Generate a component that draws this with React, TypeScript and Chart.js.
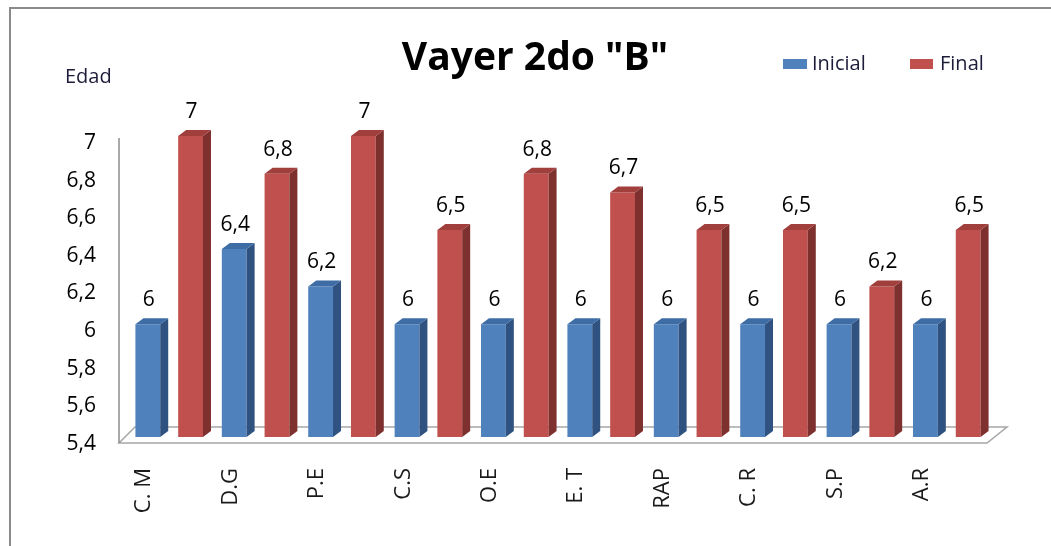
import React, { useEffect, useRef } from "react";
import { Chart, registerables } from "chart.js";
Chart.register(...registerables);

const categories = ["C. M", "D.G", "P.E", "C.S", "O.E", "E. T", "RAP", "C. R", "S.P", "A.R"];
const inicial = [6, 6.4, 6.2, 6, 6, 6, 6, 6, 6, 6];
const final = [7, 6.8, 7, 6.5, 6.8, 6.7, 6.5, 6.5, 6.2, 6.5];
const yMin = 5.4;
const yMax = 7;
const yStep = 0.2;
const titleText = 'Vayer 2do "B"';
const yAxisTitle = "Edad";
const seriesNames = ["Inicial", "Final"];

const FONT = "'Open Sans', sans-serif";
const BLUE = { front: "#4F81BD", side: "#2F5280", top: "#3E6DA6" };
const RED = { front: "#C0504D", side: "#7E302E", top: "#A03F3C" };
const DX = 8;
const DY = 6;

const fmt = (v: number) => String(Number(v.toFixed(1))).replace(".", ",");

const threeD = {
  id: "threeD",
  beforeDraw(chart: any) {
    const ctx = chart.ctx;
    const a = chart.chartArea;
    ctx.save();
    ctx.fillStyle = "#ffffff";
    ctx.fillRect(0, 0, chart.width, chart.height);
    // frame
    ctx.strokeStyle = "#8a8a8a";
    ctx.lineWidth = 2;
    ctx.beginPath();
    ctx.moveTo(10, chart.height + 2);
    ctx.lineTo(10, 8);
    ctx.lineTo(chart.width + 2, 8);
    ctx.stroke();
    // floor
    const fb = a.bottom + 6;
    const bb = a.bottom - 10;
    ctx.strokeStyle = "#a6a6a6";
    ctx.lineWidth = 1.5;
    ctx.beginPath();
    ctx.moveTo(a.left - 7, fb);
    ctx.lineTo(a.left + 9, bb);
    ctx.lineTo(a.right + 17, bb);
    ctx.lineTo(a.right - 3, fb);
    ctx.closePath();
    ctx.stroke();
    // axis line
    ctx.strokeStyle = "#8c8c8c";
    ctx.lineWidth = 1.5;
    ctx.beginPath();
    ctx.moveTo(a.left - 7, a.top + 2);
    ctx.lineTo(a.left - 7, fb);
    ctx.stroke();
    ctx.restore();
  },
  afterDatasetsDraw(chart: any) {
    const ctx = chart.ctx;
    const base = chart.scales.y.getPixelForValue(yMin);
    ctx.save();
    chart.data.datasets.forEach((ds: any, di: number) => {
      const meta = chart.getDatasetMeta(di);
      const col = di === 0 ? BLUE : RED;
      meta.data.forEach((bar: any, i: number) => {
        const x = bar.x;
        const y = bar.y;
        const width = bar.width;
        const l = x - width / 2;
        const r = x + width / 2;
        // side
        ctx.fillStyle = col.side;
        ctx.beginPath();
        ctx.moveTo(r, y);
        ctx.lineTo(r + DX, y - DY);
        ctx.lineTo(r + DX, base - DY);
        ctx.lineTo(r, base);
        ctx.closePath();
        ctx.fill();
        // top
        ctx.fillStyle = col.top;
        ctx.beginPath();
        ctx.moveTo(l, y);
        ctx.lineTo(l + DX, y - DY);
        ctx.lineTo(r + DX, y - DY);
        ctx.lineTo(r, y);
        ctx.closePath();
        ctx.fill();
        // label
        ctx.fillStyle = "#000000";
        ctx.font = `21px ${FONT}`;
        ctx.textAlign = "center";
        ctx.textBaseline = "middle";
        ctx.fillText(fmt(ds.data[i]), x + 1, y - 24);
      });
    });
    ctx.restore();
  },
  afterDraw(chart: any) {
    const ctx = chart.ctx;
    ctx.save();
    ctx.fillStyle = "#000000";
    ctx.textBaseline = "alphabetic";
    ctx.textAlign = "center";
    ctx.font = `bold 39px ${FONT}`;
    ctx.fillText(titleText, 535, 70);
    ctx.textAlign = "left";
    ctx.font = `20px ${FONT}`;
    ctx.fillStyle = "#1c1c3a";
    ctx.fillText(yAxisTitle, 65, 83);
    // legend
    ctx.fillStyle = BLUE.front;
    ctx.fillRect(783, 59, 24, 10);
    ctx.fillStyle = RED.front;
    ctx.fillRect(910, 59, 23, 10);
    ctx.fillStyle = "#1c1c3a";
    ctx.font = `20px ${FONT}`;
    ctx.fillText(seriesNames[0], 812, 70);
    ctx.fillText(seriesNames[1], 940, 70);
    ctx.restore();
  },
};

export default function App() {
  const ref = useRef<HTMLCanvasElement>(null);
  useEffect(() => {
    if (!ref.current) return;
    const chart = new Chart(ref.current, {
      type: "bar",
      data: {
        labels: categories,
        datasets: [
          { label: seriesNames[0], data: inicial, backgroundColor: BLUE.front, borderWidth: 0 },
          { label: seriesNames[1], data: final, backgroundColor: RED.front, borderWidth: 0 },
        ],
      },
      options: {
        animation: false,
        responsive: false,
        devicePixelRatio: 1,
        datasets: { bar: { categoryPercentage: 0.99, barPercentage: 0.58 } },
        layout: { padding: { top: 136, right: 61, bottom: 0, left: 0 } },
        plugins: { legend: { display: false }, title: { display: false }, tooltip: { enabled: false } },
        scales: {
          x: {
            grid: { display: false, drawTicks: false },
            border: { display: false },
            ticks: {
              maxRotation: 90,
              minRotation: 90,
              padding: 31,
              labelOffset: -25,
              color: "#1a1a1a",
              font: { family: FONT, size: 22 },
              autoSkip: false,
            },
            afterFit: (s: any) => {
              s.height = 109;
            },
          },
          y: {
            min: yMin,
            max: yMax,
            grid: { display: false, drawTicks: false },
            border: { display: false },
            ticks: {
              stepSize: yStep,
              padding: 30,
              labelOffset: 7,
              color: "#000000",
              font: { family: FONT, size: 21 },
              callback: (v: any) => fmt(Number(v)),
            },
            afterFit: (s: any) => {
              s.width = 126;
            },
          },
        },
      },
      plugins: [threeD],
    });
    return () => chart.destroy();
  }, []);
  return (
    <div style={{ position: "fixed", left: 0, top: 0, width: 1051, height: 546, overflow: "hidden" }}>
      <canvas ref={ref} width={1051} height={546} style={{ display: "block", width: 1051, height: 546 }} />
    </div>
  );
}
